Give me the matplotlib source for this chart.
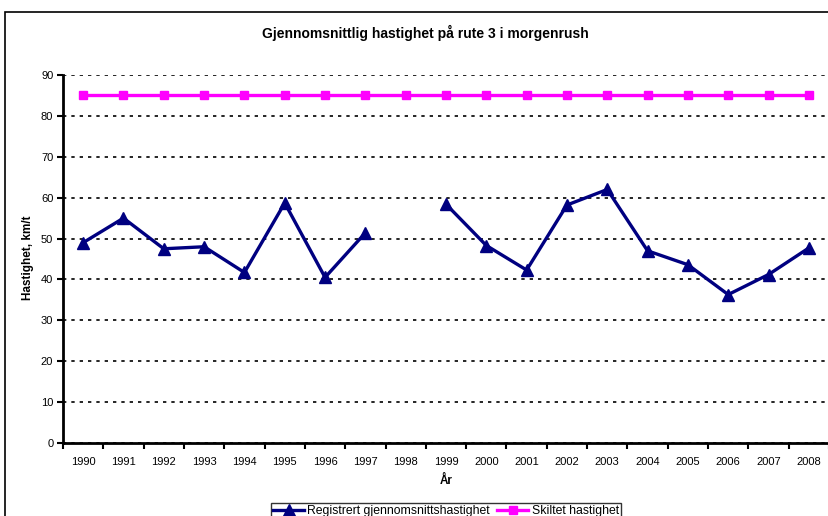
import numpy as np
import matplotlib.pyplot as plt
from matplotlib.patches import Rectangle

# --- Data ---
years = [str(y) for y in range(1990, 2009)]
registrert = [49.0, 55.0, 47.5, 48.0, 41.7, 58.7, 40.5, 51.4, np.nan, 58.4,
              48.3, 42.3, 58.2, 62.0, 47.0, 43.6, 36.3, 41.2, 47.7]
skiltet = [85] * len(years)
y_ticks = list(range(0, 100, 10))

plt.rcParams['font.family'] = ['Liberation Sans', 'DejaVu Sans']

W, H = 829, 516
fig = plt.figure(figsize=(W / 100, H / 100), dpi=100)
ax = fig.add_axes([63 / W, 1 - 443 / H, (829 - 63) / W, (443 - 75) / H])

x = np.arange(len(years))
ax.plot(x, registrert, color='#000080', lw=2.4, marker='^', markersize=8,
        label='Registrert gjennomsnittshastighet', zorder=3)
ax.plot(x, skiltet, color='#FF00FF', lw=2.4, marker='s', markersize=6,
        label='Skiltet hastighet', zorder=3)

ax.set_xlim(-0.5, len(years) - 0.5)
ax.set_ylim(0, 90)
ax.set_yticks(y_ticks)
ax.set_xticks(x)
ax.set_xticklabels(years)
ax.set_xticks(np.arange(-0.5, len(years), 1), minor=True)
ax.tick_params(axis='x', which='major', length=0, labelsize=8, pad=10)
ax.tick_params(axis='x', which='minor', length=4, width=1.5, direction='out')
ax.tick_params(axis='y', labelsize=8, length=4, width=1.5, direction='out', pad=3)

ax.grid(axis='y', color='black', linestyle=(0, (2, 3)), lw=1.2)
ax.set_axisbelow(True)
for s in ['top', 'right']:
    ax.spines[s].set_visible(False)
for s in ['left', 'bottom']:
    ax.spines[s].set_linewidth(2)
    ax.spines[s].set_zorder(4)

fig.text(425 / W, 1 - 33 / H, 'Gjennomsnittlig hastighet på rute 3 i morgenrush',
         ha='center', va='center', fontsize=10, fontweight='bold')
fig.text(28 / W, 1 - 258 / H, 'Hastighet, km/t', rotation=90,
         ha='center', va='center', fontsize=8.5, fontweight='bold')
fig.text(446 / W, 1 - 481 / H, 'År', ha='center', va='center',
         fontsize=8.5, fontweight='bold')

# outer chart border
fig.patches.append(Rectangle((5 / W, -0.1), 2, 1 - 12 / H + 0.1,
                             transform=fig.transFigure, fill=False,
                             edgecolor='black', lw=1.2))

leg = fig.legend(loc='upper center', bbox_to_anchor=(446 / W, 1 - 503 / H),
                 ncol=2, fontsize=8.8, frameon=True, fancybox=False,
                 edgecolor='black', borderpad=0.2, borderaxespad=0,
                 handlelength=2.5, columnspacing=0.6, handletextpad=0.3)
leg.get_frame().set_linewidth(1)

fig.savefig('out.png', dpi=100)
